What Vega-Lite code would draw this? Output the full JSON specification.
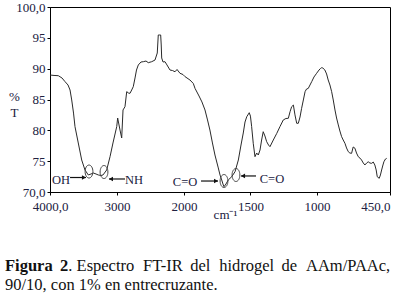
{
  "$schema": "https://vega.github.io/schema/vega-lite/v6.json",
  "width": 340,
  "height": 185,
  "autosize": "none",
  "padding": {"left": 50, "top": 7, "right": 5, "bottom": 109},
  "background": "white",
  "config": {
    "view": {"stroke": "black", "strokeWidth": 1},
    "font": "Liberation Serif",
    "axisX": {
      "labelFont": "Liberation Serif", "labelFontSize": 13, "labelColor": "#202040",
      "labelPadding": 5, "tickSize": 3, "tickColor": "black", "domainColor": "black",
      "grid": false, "labelFlush": false, "labelOverlap": false,
      "titleFont": "Liberation Serif", "titleFontSize": 13, "titleFontWeight": "normal", "titleColor": "#202040",
      "titleX": 175, "titleY": 26, "titleBaseline": "alphabetic", "titleAlign": "center"
    },
    "axisY": {
      "labelFont": "Liberation Serif", "labelFontSize": 13, "labelColor": "#202040",
      "labelPadding": 2, "tickSize": 3, "tickColor": "black", "domainColor": "black",
      "grid": false, "labelFlush": false, "labelOverlap": false,
      "titleFont": "Liberation Serif", "titleFontSize": 13, "titleFontWeight": "normal", "titleColor": "#202040",
      "titleAngle": 0, "titleX": -36, "titleY": 93, "titleAlign": "center", "titleBaseline": "alphabetic",
      "titleLineHeight": 16
    }
  },
  "datasets": {
    "spectrum": [
      {"wn": 4000, "T": 88.97}, {"wn": 3940, "T": 88.9}, {"wn": 3876, "T": 88.86}, {"wn": 3821, "T": 88.49},
      {"wn": 3776, "T": 87.9}, {"wn": 3731, "T": 87.35}, {"wn": 3701, "T": 86.54}, {"wn": 3676, "T": 84.92},
      {"wn": 3649, "T": 82.8}, {"wn": 3627, "T": 80.6}, {"wn": 3578, "T": 77.95}, {"wn": 3527, "T": 75.19},
      {"wn": 3478, "T": 73.57}, {"wn": 3428, "T": 72.76}, {"wn": 3388, "T": 72.92}, {"wn": 3354, "T": 73.08},
      {"wn": 3313, "T": 72.92}, {"wn": 3279, "T": 72.76}, {"wn": 3239, "T": 72.68}, {"wn": 3209, "T": 72.76},
      {"wn": 3154, "T": 73.57}, {"wn": 3104, "T": 75.73}, {"wn": 3060, "T": 77.95}, {"wn": 3004, "T": 80.6},
      {"wn": 2990, "T": 82.0}, {"wn": 2955, "T": 80.05}, {"wn": 2930, "T": 78.76}, {"wn": 2910, "T": 83.3},
      {"wn": 2881, "T": 83.83}, {"wn": 2855, "T": 86.27}, {"wn": 2828, "T": 86.05}, {"wn": 2806, "T": 86.0},
      {"wn": 2781, "T": 86.54}, {"wn": 2757, "T": 87.08}, {"wn": 2731, "T": 88.49}, {"wn": 2709, "T": 89.78},
      {"wn": 2682, "T": 90.6}, {"wn": 2642, "T": 91.08}, {"wn": 2607, "T": 91.13}, {"wn": 2567, "T": 91.24},
      {"wn": 2533, "T": 90.97}, {"wn": 2482, "T": 91.13}, {"wn": 2433, "T": 91.4}, {"wn": 2399, "T": 92.54},
      {"wn": 2384, "T": 95.46}, {"wn": 2369, "T": 95.46}, {"wn": 2348, "T": 95.46}, {"wn": 2340, "T": 93.84},
      {"wn": 2333, "T": 91.73}, {"wn": 2313, "T": 91.08}, {"wn": 2284, "T": 91.13}, {"wn": 2254, "T": 90.6},
      {"wn": 2209, "T": 89.78}, {"wn": 2172, "T": 89.7}, {"wn": 2134, "T": 89.5}, {"wn": 2104, "T": 89.87},
      {"wn": 2060, "T": 89.25}, {"wn": 2015, "T": 89.05}, {"wn": 1992, "T": 88.7}, {"wn": 1955, "T": 88.16},
      {"wn": 1930, "T": 87.6}, {"wn": 1917, "T": 86.8}, {"wn": 1887, "T": 85.57}, {"wn": 1865, "T": 84.6},
      {"wn": 1842, "T": 83.3}, {"wn": 1823, "T": 81.68}, {"wn": 1805, "T": 80.05}, {"wn": 1786, "T": 77.95},
      {"wn": 1767, "T": 76.0}, {"wn": 1742, "T": 73.9}, {"wn": 1729, "T": 72.76}, {"wn": 1716, "T": 71.95},
      {"wn": 1707, "T": 71.3}, {"wn": 1699, "T": 70.86}, {"wn": 1684, "T": 71.3}, {"wn": 1667, "T": 71.95},
      {"wn": 1641, "T": 72.48}, {"wn": 1616, "T": 73.29}, {"wn": 1591, "T": 75.19}, {"wn": 1571, "T": 77.62},
      {"wn": 1554, "T": 79.57}, {"wn": 1541, "T": 81.35}, {"wn": 1528, "T": 82.2}, {"wn": 1509, "T": 82.86},
      {"wn": 1500, "T": 82.3}, {"wn": 1491, "T": 80.6}, {"wn": 1479, "T": 77.9}, {"wn": 1466, "T": 75.73},
      {"wn": 1453, "T": 76.32}, {"wn": 1441, "T": 76.0}, {"wn": 1428, "T": 76.81}, {"wn": 1416, "T": 78.43},
      {"wn": 1404, "T": 79.78}, {"wn": 1391, "T": 79.08}, {"wn": 1378, "T": 78.16}, {"wn": 1364, "T": 77.62},
      {"wn": 1353, "T": 77.35}, {"wn": 1328, "T": 78.43}, {"wn": 1302, "T": 79.51}, {"wn": 1278, "T": 80.6},
      {"wn": 1253, "T": 81.68}, {"wn": 1233, "T": 81.92}, {"wn": 1215, "T": 81.95}, {"wn": 1202, "T": 83.02},
      {"wn": 1190, "T": 83.83}, {"wn": 1177, "T": 84.1}, {"wn": 1165, "T": 82.5}, {"wn": 1152, "T": 81.14},
      {"wn": 1140, "T": 81.14}, {"wn": 1127, "T": 82.16}, {"wn": 1115, "T": 83.57}, {"wn": 1102, "T": 84.92},
      {"wn": 1089, "T": 86.27}, {"wn": 1078, "T": 86.7}, {"wn": 1065, "T": 86.8}, {"wn": 1052, "T": 87.35},
      {"wn": 1039, "T": 87.9}, {"wn": 1022, "T": 88.65}, {"wn": 1002, "T": 89.25}, {"wn": 984, "T": 89.78},
      {"wn": 973, "T": 90.03}, {"wn": 964, "T": 90.16}, {"wn": 955, "T": 90.1}, {"wn": 940, "T": 89.78},
      {"wn": 927, "T": 89.14}, {"wn": 915, "T": 88.16}, {"wn": 902, "T": 87.35}, {"wn": 889, "T": 86.27},
      {"wn": 877, "T": 84.92}, {"wn": 864, "T": 83.3}, {"wn": 852, "T": 82.0}, {"wn": 839, "T": 80.87},
      {"wn": 827, "T": 79.89}, {"wn": 814, "T": 78.97}, {"wn": 802, "T": 78.43}, {"wn": 789, "T": 77.9},
      {"wn": 777, "T": 77.14}, {"wn": 764, "T": 76.54}, {"wn": 752, "T": 76.32}, {"wn": 739, "T": 76.27},
      {"wn": 727, "T": 77.3}, {"wn": 714, "T": 77.1}, {"wn": 702, "T": 76.32}, {"wn": 689, "T": 75.73},
      {"wn": 676, "T": 75.5}, {"wn": 664, "T": 75.19}, {"wn": 651, "T": 74.7}, {"wn": 639, "T": 74.38},
      {"wn": 626, "T": 74.7}, {"wn": 614, "T": 74.9}, {"wn": 601, "T": 74.7}, {"wn": 588, "T": 74.65},
      {"wn": 576, "T": 74.86}, {"wn": 564, "T": 74.38}, {"wn": 554, "T": 73.57}, {"wn": 546, "T": 72.48},
      {"wn": 531, "T": 72.22}, {"wn": 522, "T": 72.76}, {"wn": 513, "T": 73.57}, {"wn": 503, "T": 74.38},
      {"wn": 496, "T": 74.9}, {"wn": 484, "T": 75.35}, {"wn": 475, "T": 75.46}
    ],
    "bands": [
      {"wn": 3418, "T": 73.32}, {"wn": 3194, "T": 73.24}, {"wn": 1699, "T": 71.78}, {"wn": 1609, "T": 72.76}
    ],
    "labels": [
      {"label": "OH", "wn": 3836, "T": 71.95},
      {"label": "NH", "wn": 2746, "T": 71.95},
      {"label": "C=O", "wn": 1992, "T": 71.62},
      {"label": "C=O", "wn": 1338, "T": 72.1}
    ],
    "arrows": [
      {"wn": 3701, "wn2": 3463, "T": 72.35},
      {"wn": 2881, "wn2": 3119, "T": 72.11},
      {"wn": 1872, "wn2": 1744, "T": 71.78},
      {"wn": 1458, "wn2": 1571, "T": 72.6}
    ],
    "heads": [
      {"wn": 3493, "T": 72.35, "dir": "right"},
      {"wn": 3090, "T": 72.11, "dir": "left"},
      {"wn": 1759, "T": 71.78, "dir": "right"},
      {"wn": 1556, "T": 72.6, "dir": "left"}
    ]
  },
  "encoding": {
    "x": {
      "field": "wn", "type": "quantitative",
      "scale": {"domain": [4000, 2000, 450], "range": [0, 134, 340], "nice": false, "zero": false},
      "axis": {
        "values": [4000, 3000, 2000, 1500, 1000, 450],
        "labelExpr": "datum.value == 4000 ? '4000,0' : datum.value == 450 ? '450,0' : '' + datum.value",
        "labelAlign": {"expr": "datum.value == 450 ? 'right' : 'center'"},
        "title": "cm⁻¹"
      }
    },
    "y": {
      "field": "T", "type": "quantitative",
      "scale": {"domain": [70, 100], "nice": false, "zero": false},
      "axis": {
        "values": [70, 75, 80, 85, 90, 95, 100],
        "labelExpr": "datum.value == 100 ? '100,0' : datum.value == 70 ? '70,0' : '' + datum.value",
        "title": ["%", "T"]
      }
    }
  },
  "layer": [
    {
      "data": {"name": "spectrum"},
      "mark": {"type": "line", "color": "#2a2a2a", "strokeWidth": 1}
    },
    {
      "data": {"name": "bands"},
      "mark": {
        "type": "point",
        "shape": "M-0.6,0A0.6,1,0,1,0,0.6,0A0.6,1,0,1,0,-0.6,0Z",
        "size": 169, "filled": false, "stroke": "#444", "strokeWidth": 1, "opacity": 1
      }
    },
    {
      "data": {"name": "arrows"},
      "mark": {"type": "rule", "color": "#111", "strokeWidth": 1.2},
      "encoding": {
        "x2": {"field": "wn2"}
      }
    },
    {
      "data": {"name": "heads"},
      "mark": {"type": "point", "filled": true, "size": 22, "color": "#111", "opacity": 1},
      "encoding": {
        "shape": {
          "field": "dir", "type": "nominal",
          "scale": {"domain": ["right", "left"], "range": ["triangle-right", "triangle-left"]},
          "legend": null
        }
      }
    },
    {
      "data": {"name": "labels"},
      "mark": {"type": "text", "font": "Liberation Serif", "fontSize": 12.5, "color": "#202040", "baseline": "middle", "align": "center"},
      "encoding": {
        "text": {"field": "label"}
      }
    },
    {
      "data": {"values": [{"wn": 4000, "T": 57.19, "caption": "Figura \u20092"}]},
      "mark": {"type": "text", "font": "Liberation Serif", "fontSize": 16.5, "fontWeight": "bold", "color": "#111", "align": "left", "baseline": "alphabetic", "dx": -45},
      "encoding": {
        "text": {"field": "caption"}
      }
    },
    {
      "data": {"values": [{"wn": 4000, "T": 57.19, "caption": ". Espectro \u2009\u200aFT-IR \u2009del \u2009\u200ahidrogel \u2009de \u2009\u200aAAm/PAAc,"}]},
      "mark": {"type": "text", "font": "Liberation Serif", "fontSize": 16.5, "color": "#111", "align": "left", "baseline": "alphabetic", "dx": 18.3},
      "encoding": {
        "text": {"field": "caption"}
      }
    },
    {
      "data": {"values": [{"wn": 4000, "T": 54.11, "caption": "90/10, con 1% en entrecruzante."}]},
      "mark": {"type": "text", "font": "Liberation Serif", "fontSize": 16.5, "color": "#111", "align": "left", "baseline": "alphabetic", "dx": -45},
      "encoding": {
        "text": {"field": "caption"}
      }
    }
  ]
}
